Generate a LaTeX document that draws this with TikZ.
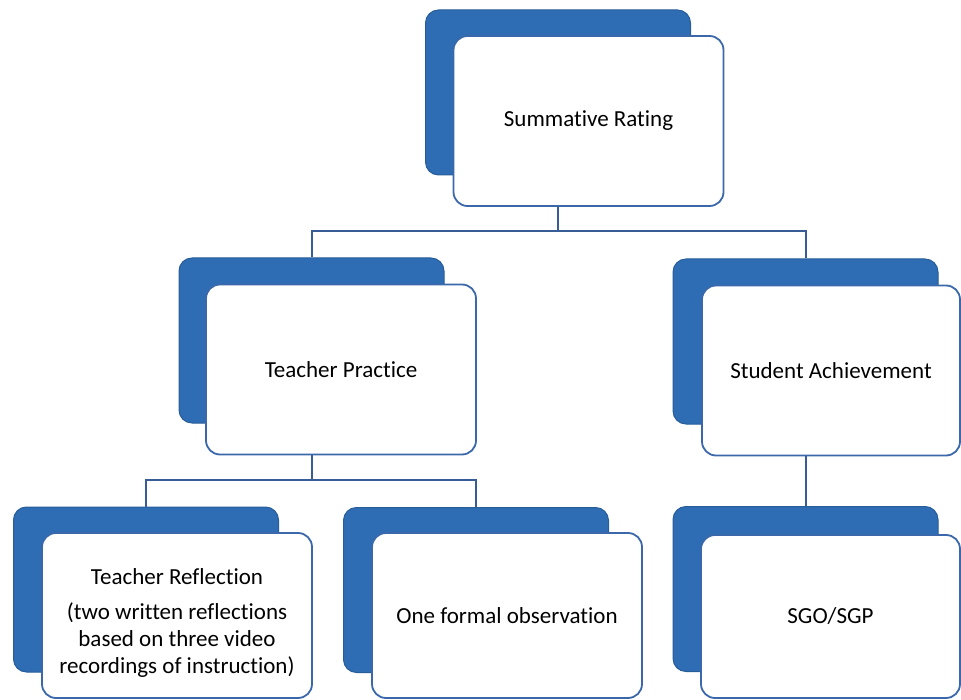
\documentclass[tikz,border=0pt]{standalone}
\usepackage{fontspec}
\setmainfont{Carlito}[RawFeature={-liga}]
\definecolor{backblue}{RGB}{46,109,180}
\definecolor{edgeblue}{RGB}{58,104,170}
\definecolor{linkblue}{RGB}{55,92,150}
\begin{document}
\begin{tikzpicture}[x=1pt,y=-1pt,
  back/.style={draw=backblue!85!black, line width=1pt, fill=backblue, rounded corners=13pt, minimum width=265pt, minimum height=165pt, inner sep=0pt},
  front/.style={draw=edgeblue, line width=1.8pt, fill=white, rounded corners=14pt, minimum width=270pt, minimum height=170pt, inner sep=0pt, align=center, font=\fontsize{23}{27}\selectfont},
  label text/.style={inner sep=0pt, align=center, font=\fontsize{23}{27}\selectfont},
  link/.style={draw=linkblue, line width=2pt}]
\useasboundingbox (0,0) rectangle (961,700);
% top
\node[back] (srB) at (558,92.5) {};
\node[front] (sr) at (588.5,121) {Summative Rating};
% middle
\node[back] (tpB) at (311.5,340.5) {};
\node[front] (tp) at (341,369.5) {Teacher Practice};
\node[back] (saB) at (805.5,341.5) {};
\node[front, minimum width=258pt] (sa) at (831,370.5) {Student Achievement};
% bottom
\node[back] (trB) at (146,589.5) {};
\node[front, minimum height=165pt] (tr) at (177,615.5) {};
\node[label text] (trtext) at ([yshift=-7pt]tr.center) {Teacher Reflection\\[8pt](two written reflections\\based on three video\\recordings of instruction)};
\node[back] (foB) at (476,590) {};
\node[front, minimum height=165pt] (fo) at (507,615.5) {One formal observation};
\node[back] (sgB) at (805.5,589) {};
\node[front, minimum width=259pt, minimum height=163pt] (sg) at (830.5,616.5) {SGO/SGP};
% connectors
\coordinate (barA) at (0,231);
\coordinate (barB) at (0,479.5);
\draw[link] (srB.center |- sr.south) -- (srB.center |- barA);
\draw[link] (tpB.north) -- (tpB.north |- barA) -- (saB.north |- barA) -- (saB.north);
\draw[link] (tpB.center |- tp.south) -- (tpB.center |- barB);
\draw[link] (trB.north) -- (trB.north |- barB) -- (foB.north |- barB) -- (foB.north);
\draw[link] (saB.center |- sa.south) -- (sgB.north);
\end{tikzpicture}
\end{document}
